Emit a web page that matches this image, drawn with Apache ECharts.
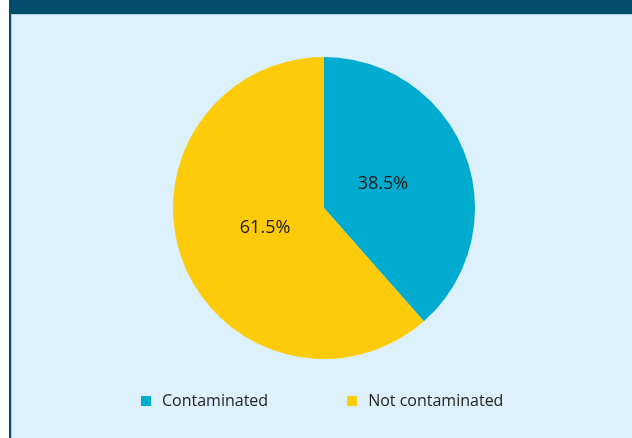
<!DOCTYPE html>
<html>
<head>
<meta charset="utf-8">
<script src="https://cdn.jsdelivr.net/npm/echarts@6/dist/echarts.min.js"></script>
<style>
html,body{margin:0;padding:0;background:#ffffff;}
#chart{width:632px;height:438px;}
</style>
</head>
<body>
<div id="chart"></div>
<script>
var categories = ['Contaminated', 'Not contaminated'];
var values = [38.5, 61.5];
var colors = ['#01abcf', '#fecb0a'];

var chart = echarts.init(document.getElementById('chart'));
var data = categories.map(function (c, i) {
  return { name: c, value: values[i], itemStyle: { color: colors[i] } };
});
var fontFamily = '"Open Sans", "Noto Sans", sans-serif';
chart.setOption({
  backgroundColor: '#ffffff',
  animation: false,
  graphic: [
    { type: 'rect', shape: { x: 9, y: 0, width: 623, height: 438 }, style: { fill: '#dcf1fb' }, z: 0 },
    { type: 'rect', shape: { x: 9, y: 0, width: 2, height: 438 }, style: { fill: '#0c4a66' }, z: 1 },
    { type: 'rect', shape: { x: 11, y: 14, width: 1, height: 424 }, style: { fill: '#a9d5e8' }, z: 1 },
    { type: 'rect', shape: { x: 9, y: 0, width: 623, height: 14 }, style: { fill: '#034c6b' }, z: 2 },
    { type: 'rect', shape: { x: 11, y: 14, width: 621, height: 1 }, style: { fill: '#a9d5e8' }, z: 2 }
  ],
  legend: {
    data: categories,
    left: 136,
    top: 388,
    itemWidth: 10,
    itemHeight: 10,
    itemGap: 79,
    icon: 'rect',
    textStyle: { fontFamily: fontFamily, fontSize: 16, color: '#222222', padding: [0, 0, 0, 6] }
  },
  series: [
    {
      type: 'pie',
      center: [324, 208],
      radius: [0, 151],
      startAngle: 90,
      clockwise: true,
      data: data,
      label: { show: false },
      labelLine: { show: false },
      emphasis: { disabled: true },
      silent: true
    },
    {
      type: 'pie',
      center: [324, 206],
      radius: [0, 120],
      startAngle: 90,
      clockwise: true,
      data: data.map(function (d) { return { name: d.name, value: d.value, itemStyle: { color: 'rgba(0,0,0,0)' } }; }),
      label: {
        show: true,
        position: 'inside',
        formatter: function (p) { return p.value.toFixed(1) + '%'; },
        fontFamily: fontFamily,
        fontSize: 18,
        color: '#1a1a1a'
      },
      labelLine: { show: false },
      emphasis: { disabled: true },
      silent: true,
      legendHoverLink: false
    }
  ]
});
</script>
</body>
</html>
